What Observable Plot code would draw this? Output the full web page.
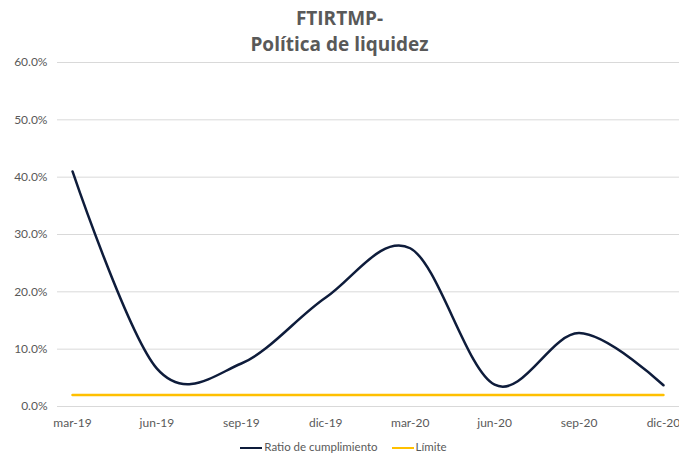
<!DOCTYPE html>
<html>
<head>
<meta charset="utf-8">
<script src="https://cdn.jsdelivr.net/npm/d3@7"></script>
<script src="https://cdn.jsdelivr.net/npm/@observablehq/plot@0.6"></script>
<style>
  html, body { margin: 0; padding: 0; background: #fff; }
  body { width: 679px; height: 455px; overflow: hidden; font-family: Lato, "Open Sans", sans-serif; position: relative; }
  #title { position: absolute; top: 0; left: 0; width: 679px; text-align: center; font: bold 19px "Open Sans", Lato, sans-serif; color: #595959; line-height: 26px; padding-top: 5px; }
  #chart { padding-top: 44px; }
  #legend { height: 19px; display: flex; justify-content: center; align-items: center; font: 11.5px Lato, sans-serif; color: #595959; gap: 14px; margin-left: 8px; padding-top: 1px; }
  .sw { display: inline-block; width: 22px; height: 0; border-top: 2.5px solid; vertical-align: middle; margin-right: 2px; }
  #chart svg { display: block; }
</style>
</head>
<body>
<div id="chart"></div>
<div id="legend"></div>
<div id="title">FTIRTMP-<br>Política de liquidez</div>
<script>
const periods = ["mar-19", "jun-19", "sep-19", "dic-19", "mar-20", "jun-20", "sep-20", "dic-20"];
const ratio = [41.0, 6.6, 7.5, 19.0, 27.6, 3.8, 12.8, 3.7];
const limite = [2, 2, 2, 2, 2, 2, 2, 2];
const yTicks = [0, 10, 20, 30, 40, 50, 60];
const seriesNames = ["Ratio de cumplimiento", "Límite"];
const colors = ["#0e1c3b", "#ffc000"];

const ratioData = periods.map((p, i) => ({i, v: ratio[i]}));
const limData = periods.map((p, i) => ({i, v: limite[i]}));

const chart = Plot.plot({
  width: 679,
  height: 392,
  marginLeft: 57,
  marginRight: 0,
  marginTop: 18,
  marginBottom: 30,
  style: {fontFamily: "Lato, sans-serif", fontSize: "12px", color: "#595959", background: "transparent"},
  x: {type: "linear", domain: [-0.178, 7.19], ticks: d3.range(periods.length), tickFormat: i => periods[i], tickSize: 0, tickPadding: 12, label: null},
  y: {domain: [0, 60], ticks: yTicks, tickFormat: d => d.toFixed(1) + "%", tickSize: 0, tickPadding: 10, label: null},
  marks: [
    Plot.ruleY(yTicks, {stroke: "#d9d9d9", strokeWidth: 1}),
    Plot.line(limData, {x: "i", y: "v", stroke: colors[1], strokeWidth: 2.5}),
    Plot.line(ratioData, {x: "i", y: "v", stroke: colors[0], strokeWidth: 2.5, curve: "cardinal", tension: 0})
  ]
});
document.getElementById("chart").appendChild(chart);

const leg = document.getElementById("legend");
seriesNames.forEach((n, k) => {
  const s = document.createElement("span");
  s.innerHTML = `<span class="sw" style="border-color:${colors[k]}"></span>${n}`;
  leg.appendChild(s);
});
</script>
</body>
</html>
